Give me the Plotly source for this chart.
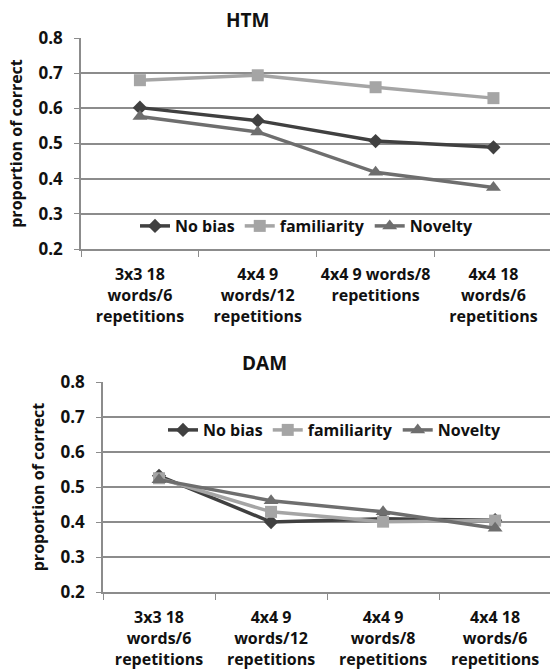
import plotly.graph_objects as go

# ---- data ----
series_names = ["No bias", "familiarity", "Novelty"]

htm_categories = ["3x3 18<br>words/6<br>repetitions", "4x4 9<br>words/12<br>repetitions",
                  "4x4 9 words/8<br>repetitions", "4x4 18<br>words/6<br>repetitions"]
dam_categories = ["3x3 18<br>words/6<br>repetitions", "4x4 9<br>words/12<br>repetitions",
                  "4x4 9<br>words/8<br>repetitions", "4x4 18<br>words/6<br>repetitions"]

htm_no_bias = [0.602, 0.565, 0.507, 0.489]
htm_familiarity = [0.680, 0.694, 0.660, 0.629]
htm_novelty = [0.577, 0.533, 0.418, 0.375]

dam_no_bias = [0.532, 0.400, 0.409, 0.405]
dam_familiarity = [0.525, 0.429, 0.401, 0.404]
dam_novelty = [0.521, 0.461, 0.429, 0.382]

y_tickvals = [0.2, 0.3, 0.4, 0.5, 0.6, 0.7, 0.8]

# ---- styles ----
colors = ["#404040", "#a5a5a5", "#6e6e6e"]
symbols = ["diamond", "square", "triangle-up"]
msizes = [11, 12, 13]
FONT = "Open Sans"
TXT = "#111111"

fig = go.Figure()

htm_vals = [htm_no_bias, htm_familiarity, htm_novelty]
dam_vals = [dam_no_bias, dam_familiarity, dam_novelty]

for i, name in enumerate(series_names):
    fig.add_trace(go.Scatter(
        x=htm_categories, y=htm_vals[i], name=name, mode="lines+markers",
        line=dict(color=colors[i], width=3.5),
        marker=dict(symbol=symbols[i], size=msizes[i], color=colors[i]),
        xaxis="x", yaxis="y", legend="legend"))
for i, name in enumerate(series_names):
    fig.add_trace(go.Scatter(
        x=dam_categories, y=dam_vals[i], name=name, mode="lines+markers",
        line=dict(color=colors[i], width=3.5),
        marker=dict(symbol=symbols[i], size=msizes[i], color=colors[i]),
        xaxis="x2", yaxis="y2", legend="legend2"))

W, H = 550, 672
def py(px):
    return 1 - px / H

xfont = dict(family=FONT, size=16, color=TXT, weight="bold")
yfont = dict(family=FONT, size=17, color=TXT, weight="bold")
common_x = dict(type="category", tickson="boundaries", ticks="outside", ticklen=6,
                tickcolor="#8c8c8c", showline=True, linecolor="#8c8c8c", linewidth=1.5,
                showgrid=False, tickfont=xfont, zeroline=False, tickangle=0,
                automargin=False, ticklabelstandoff=10)
common_y = dict(range=[0.2, 0.8], tickvals=y_tickvals, tickformat=".1f",
                ticks="outside", ticklen=5, tickcolor="#8c8c8c",
                showline=True, linecolor="#8c8c8c", linewidth=1.5,
                showgrid=True, gridcolor="#8c8c8c", gridwidth=1.5,
                tickfont=yfont, zeroline=False, automargin=False, ticklabelstandoff=8)
ytitle = dict(text="proportion of correct",
              font=dict(family=FONT, size=16, color=TXT, weight="bold"), standoff=12)
legfont = dict(family=FONT, size=16, color=TXT, weight="bold")

fig.update_layout(
    width=W, height=H,
    margin=dict(l=0, r=0, t=0, b=0),
    paper_bgcolor="white", plot_bgcolor="white",
    font=dict(family=FONT, color=TXT),
    xaxis=dict(common_x, domain=[81 / W, 1], range=[-0.5, 3.48], anchor="y"),
    yaxis=dict(common_y, domain=[py(249), py(38)], anchor="x", title=ytitle),
    xaxis2=dict(common_x, domain=[103 / W, 1], range=[-0.5, 3.49], anchor="y2"),
    yaxis2=dict(common_y, domain=[py(592), py(382)], anchor="x2", title=ytitle),
    legend=dict(orientation="h", x=307 / W, xanchor="center", y=py(226), yanchor="middle",
                xref="paper", yref="paper", bgcolor="rgba(0,0,0,0)", font=legfont),
    legend2=dict(orientation="h", x=335 / W, xanchor="center", y=py(430), yanchor="middle",
                 xref="paper", yref="paper", bgcolor="rgba(0,0,0,0)", font=legfont),
    annotations=[
        dict(text="HTM", x=247 / W, y=py(20), xref="paper", yref="paper",
             xanchor="center", yanchor="middle", showarrow=False,
             font=dict(family=FONT, size=19, color=TXT, weight="bold")),
        dict(text="DAM", x=264 / W, y=py(363), xref="paper", yref="paper",
             xanchor="center", yanchor="middle", showarrow=False,
             font=dict(family=FONT, size=19, color=TXT, weight="bold")),
    ],
)

fig.write_html("out.html", config={"displayModeBar": False},
               post_script="document.body.style.margin='0px';")
